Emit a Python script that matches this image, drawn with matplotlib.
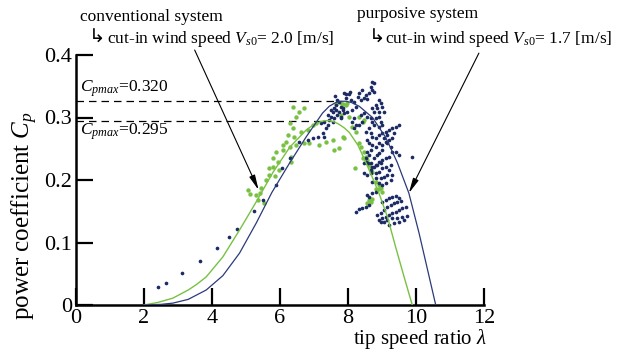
import numpy as np
import matplotlib
matplotlib.use('Agg')
import matplotlib.pyplot as plt

plt.rcParams['font.family'] = ['Liberation Serif', 'DejaVu Sans']
plt.rcParams['mathtext.fontset'] = 'custom'
plt.rcParams['mathtext.rm'] = 'Liberation Serif'
plt.rcParams['mathtext.it'] = 'Liberation Serif:italic'

# fitted Cp curves
blue_x = [2.0, 2.5, 2.85, 3.3, 3.83, 4.32, 4.81, 5.30, 5.76, 6.28, 6.77, 7.25, 7.45, 7.64,
          7.8, 7.94, 8.1, 8.33, 8.72, 9.11, 9.45, 9.79, 10.09, 10.35, 10.58]
blue_y = [0.0, 0.001, 0.003, 0.009, 0.024, 0.047, 0.083, 0.131, 0.180, 0.227, 0.269, 0.307,
          0.318, 0.324, 0.326, 0.326, 0.324, 0.318, 0.300, 0.268, 0.228, 0.179, 0.115, 0.054, 0.0]
green_x = [2.0, 2.4, 2.85, 3.3, 3.55, 3.83, 4.32, 4.81, 5.30, 5.79, 6.28, 6.77, 6.95, 7.18,
           7.3, 7.45, 7.6, 7.74, 7.9, 8.04, 8.30, 8.55, 8.75, 8.91, 9.16, 9.40, 9.65, 9.89]
green_y = [0.0, 0.004, 0.011, 0.024, 0.033, 0.045, 0.077, 0.120, 0.165, 0.212, 0.252, 0.280,
           0.287, 0.293, 0.295, 0.295, 0.293, 0.289, 0.283, 0.276, 0.255, 0.225, 0.200, 0.179,
           0.141, 0.093, 0.045, 0.0]

# measured points, conventional system (green)
green_pts = [
    (5.05, 0.184), (5.12, 0.177), (5.30, 0.176), (5.40, 0.180), (5.35, 0.168), (5.54, 0.164),
    (5.45, 0.187), (5.59, 0.200), (5.67, 0.208), (5.69, 0.219), (5.79, 0.221), (5.84, 0.207),
    (5.79, 0.235), (5.93, 0.229), (5.88, 0.245), (6.10, 0.248), (6.28, 0.253), (6.33, 0.237),
    (6.18, 0.261), (6.23, 0.272), (6.28, 0.291), (6.37, 0.283), (6.47, 0.301), (6.37, 0.317),
    (6.57, 0.309), (6.72, 0.315), (6.62, 0.277), (6.81, 0.280), (6.96, 0.288), (7.06, 0.291),
    (6.86, 0.259), (7.16, 0.256), (7.35, 0.261), (7.55, 0.264), (7.60, 0.248), (7.74, 0.251),
    (7.64, 0.322), (7.79, 0.323), (7.94, 0.320), (8.04, 0.301), (8.13, 0.285), (8.23, 0.277),
    (8.21, 0.219), (6.42, 0.269), (6.08, 0.256), (6.47, 0.256), (6.72, 0.259), (5.98, 0.216),
    (6.33, 0.229), (7.84, 0.321), (7.98, 0.324), (7.79, 0.304), (7.84, 0.269), (7.89, 0.267),
    (8.33, 0.301), (8.43, 0.293), (8.47, 0.296), (8.33, 0.259), (8.38, 0.253), (8.47, 0.245),
    (8.43, 0.235), (8.52, 0.237), (8.57, 0.232), (8.62, 0.224), (8.67, 0.219), (8.72, 0.213),
    (8.82, 0.197), (8.91, 0.192), (8.96, 0.187), (9.01, 0.181), (8.82, 0.185), (8.91, 0.185),
    (8.62, 0.168), (8.67, 0.165), (8.72, 0.169), (8.57, 0.163),
]

# measured points, purposive system (blue)
blue_pts = [
    (2.41, 0.029), (2.66, 0.036), (3.13, 0.051), (3.66, 0.071), (4.14, 0.091), (4.50, 0.109),
    (4.73, 0.121), (5.23, 0.150), (5.51, 0.168), (5.88, 0.192), (6.06, 0.220), (6.28, 0.235),
    (6.57, 0.261), (6.81, 0.264), (6.96, 0.267), (7.11, 0.269), (7.25, 0.275), (7.30, 0.269),
    (7.35, 0.283), (7.20, 0.291), (7.30, 0.293), (7.40, 0.288), (7.45, 0.296), (7.50, 0.301),
    (7.55, 0.309), (7.60, 0.315), (7.64, 0.320), (7.69, 0.328), (7.74, 0.325), (7.79, 0.317),
    (7.84, 0.312), (7.69, 0.304), (7.60, 0.299), (7.55, 0.293), (7.79, 0.299), (7.74, 0.309),
    (7.64, 0.312), (7.50, 0.312), (7.40, 0.304), (7.62, 0.335), (7.95, 0.338), (8.05, 0.340),
    (8.72, 0.357), (8.77, 0.355), (8.67, 0.349), (8.72, 0.344), (8.77, 0.341), (8.62, 0.339),
    (8.52, 0.336), (8.48, 0.331), (8.57, 0.330), (8.42, 0.344), (8.33, 0.339), (8.28, 0.333),
    (8.38, 0.328), (8.91, 0.328), (8.96, 0.323), (9.01, 0.317), (8.81, 0.320), (8.86, 0.315),
    (8.72, 0.315), (8.77, 0.309), (8.91, 0.309), (9.06, 0.309), (7.89, 0.339), (8.03, 0.337),
    (7.94, 0.331), (8.08, 0.328), (8.18, 0.325), (7.84, 0.315), (7.89, 0.307), (7.79, 0.301),
    (7.98, 0.309), (8.13, 0.312), (8.23, 0.317), (8.18, 0.299), (8.13, 0.293), (8.23, 0.288),
    (8.18, 0.283), (8.33, 0.288), (8.42, 0.293), (8.38, 0.304), (8.48, 0.307), (8.57, 0.301),
    (8.67, 0.299), (8.72, 0.293), (8.81, 0.299), (8.91, 0.301), (8.96, 0.293), (9.01, 0.288),
    (8.91, 0.285), (8.77, 0.288), (8.62, 0.283), (8.52, 0.277), (8.67, 0.275), (8.72, 0.269),
    (8.81, 0.267), (8.91, 0.272), (9.01, 0.275), (9.11, 0.277), (9.16, 0.272), (9.21, 0.280),
    (9.30, 0.283), (9.40, 0.285), (9.50, 0.288), (9.35, 0.275), (9.21, 0.264), (9.11, 0.261),
    (9.01, 0.256), (8.91, 0.259), (8.81, 0.253), (8.72, 0.256), (8.62, 0.259), (8.57, 0.264),
    (9.30, 0.267), (9.06, 0.267), (9.16, 0.259), (9.26, 0.253), (9.30, 0.245), (9.40, 0.245),
    (9.50, 0.240), (9.21, 0.237), (9.11, 0.235), (9.01, 0.232), (8.91, 0.229), (8.81, 0.224),
    (8.72, 0.221), (8.67, 0.216), (8.77, 0.235), (8.86, 0.240), (9.89, 0.237), (8.57, 0.245),
    (8.62, 0.240), (8.67, 0.248), (8.52, 0.235), (8.48, 0.228), (8.60, 0.227), (8.91, 0.243),
    (9.01, 0.248), (8.52, 0.229), (8.67, 0.227), (8.77, 0.221), (8.86, 0.224), (8.96, 0.227),
    (9.01, 0.219), (8.91, 0.213), (8.81, 0.211), (8.67, 0.211), (8.57, 0.208), (8.48, 0.211),
    (9.11, 0.221), (9.21, 0.216), (9.16, 0.208), (9.06, 0.205), (8.96, 0.203), (8.81, 0.203),
    (8.72, 0.197), (8.91, 0.195), (9.01, 0.192), (9.11, 0.195), (9.26, 0.200), (9.30, 0.208),
    (9.26, 0.224), (8.23, 0.149), (8.33, 0.153), (8.42, 0.156), (8.52, 0.157), (8.62, 0.160),
    (8.86, 0.144), (8.96, 0.147), (9.06, 0.152), (9.16, 0.157), (9.26, 0.160), (9.35, 0.164),
    (9.45, 0.165), (9.55, 0.167), (8.91, 0.136), (9.01, 0.139), (9.11, 0.141), (9.21, 0.144),
    (9.30, 0.147), (9.40, 0.149), (9.50, 0.152), (9.60, 0.155), (9.70, 0.157), (8.96, 0.133),
    (9.06, 0.133), (9.16, 0.136), (9.30, 0.139), (9.45, 0.140), (9.60, 0.141), (9.74, 0.142),
    (9.21, 0.128), (9.35, 0.131), (9.50, 0.133), (9.65, 0.136), (9.30, 0.173), (9.40, 0.174),
    (9.50, 0.171), (9.21, 0.171), (9.11, 0.168), (9.01, 0.165), (8.72, 0.179), (8.81, 0.181),
    (8.62, 0.173), (8.57, 0.176),
]

cp_labels = ['0.320', '0.295']
xticks = [0, 2, 4, 6, 8, 10, 12]
yticks = [0, 0.1, 0.2, 0.3, 0.4]
ytick_labels = ['0', '0.1', '0.2', '0.3', '0.4']

navy = '#1c2b63'
green = '#78c143'

fig = plt.figure(figsize=(6.23, 3.52), dpi=100)
ax = fig.add_axes([76 / 623, 47 / 352, 408 / 623, 250 / 352])

gp = np.array(green_pts)
bp = np.array(blue_pts)
ax.scatter(gp[:, 0], gp[:, 1], s=10, color=green, linewidths=0, zorder=3)
ax.scatter(bp[:, 0], bp[:, 1], s=7, color=navy, linewidths=0, zorder=4)
ax.plot(green_x, green_y, color=green, lw=1.0, zorder=5)
ax.plot(blue_x, blue_y, color='#2a3a7a', lw=0.9, zorder=5)

# dashed lines at the maxima
ib = int(np.argmax(blue_y))
ig = int(np.argmax(green_y))
ax.plot([0, blue_x[ib]], [blue_y[ib]] * 2, color='black', lw=0.9, dashes=(6, 4), zorder=2)
ax.plot([0, green_x[ig]], [green_y[ig]] * 2, color='black', lw=0.9, dashes=(6, 4), zorder=2)

ax.set_xlim(0, 12)
ax.set_ylim(0, 0.4)
ax.set_xticks(xticks)
ax.set_yticks(yticks)
ax.set_yticklabels(ytick_labels)
for s in ['top', 'right']:
    ax.spines[s].set_visible(False)
for s in ['left', 'bottom']:
    ax.spines[s].set_linewidth(1.8)
ax.tick_params(direction='in', length=12, width=1.6, labelsize=16, pad=3)

fig.text(25 / 623, 1 - 216 / 352, r'power coefficient $C_p$', fontsize=18, rotation=90,
         ha='center', va='center')
ax.text(12.1, -0.0625, r'tip speed ratio $\lambda$', fontsize=15, ha='right', va='baseline',
        clip_on=False)

ax.text(0.12, 0.341, r'$C_{pmax}$=' + cp_labels[0], fontsize=12.5, va='baseline')
ax.text(0.12, 0.272, r'$C_{pmax}$=' + cp_labels[1], fontsize=12.5, va='baseline')

hook = dict(fontsize=14, va='baseline', family='DejaVu Sans', clip_on=False)
ax.text(0.12, 0.455, 'conventional system', fontsize=12.5, va='baseline', clip_on=False)
ax.text(0.38, 0.419, '\u21b3', **hook)
ax.text(0.9, 0.419, 'cut-in wind speed $V_{\\mathit{s0}}$= 2.0 [m/s]', fontsize=12.5,
        va='baseline', clip_on=False)
ax.text(8.27, 0.459, 'purposive system', fontsize=12.5, va='baseline', clip_on=False)
ax.text(8.6, 0.419, '\u21b3', **hook)
ax.text(9.1, 0.419, 'cut-in wind speed $V_{\\mathit{s0}}$= 1.7 [m/s]', fontsize=12.5,
        va='baseline', clip_on=False)

arrow = dict(arrowstyle='-|>,head_length=0.9,head_width=0.18', color='black', lw=0.8,
             shrinkA=0, shrinkB=0)
ax.annotate('', xy=(5.37, 0.184), xytext=(3.49, 0.408), arrowprops=arrow, annotation_clip=False)
ax.annotate('', xy=(9.79, 0.179), xytext=(11.85, 0.403), arrowprops=arrow, annotation_clip=False)

fig.savefig('out.png', dpi=100)
